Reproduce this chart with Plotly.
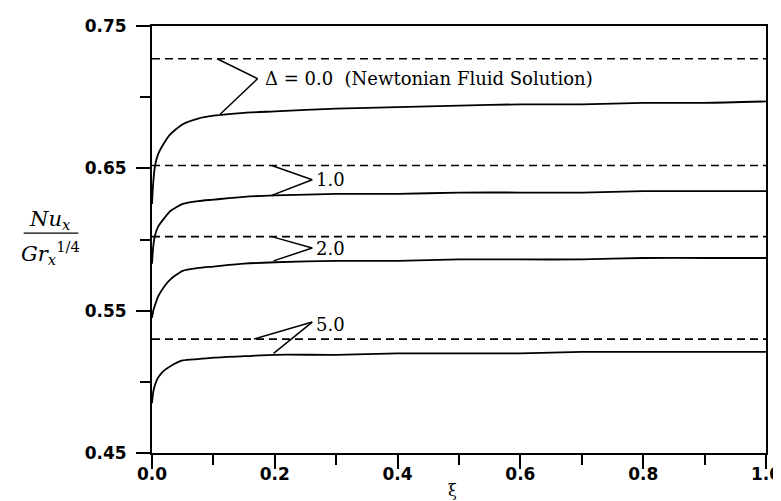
import plotly.graph_objects as go

# ---------------- data ----------------
xi = [0, 0.002, 0.005, 0.01, 0.02, 0.03, 0.05, 0.075, 0.1, 0.15, 0.2,
      0.3, 0.4, 0.5, 0.6, 0.7, 0.8, 0.9, 1.0]

nu_d0 = [0.625, 0.640, 0.652, 0.660, 0.668, 0.674, 0.681, 0.685, 0.687, 0.689, 0.690,
         0.692, 0.693, 0.694, 0.695, 0.695, 0.696, 0.696, 0.697]
nu_d1 = [0.583, 0.595, 0.603, 0.609, 0.615, 0.620, 0.625, 0.627, 0.628, 0.630, 0.631,
         0.632, 0.632, 0.633, 0.633, 0.633, 0.634, 0.634, 0.634]
nu_d2 = [0.545, 0.550, 0.554, 0.560, 0.567, 0.572, 0.578, 0.580, 0.581, 0.583, 0.584,
         0.585, 0.585, 0.586, 0.586, 0.586, 0.587, 0.587, 0.587]
nu_d5 = [0.485, 0.493, 0.498, 0.503, 0.508, 0.511, 0.515, 0.516, 0.517, 0.518, 0.519,
         0.519, 0.520, 0.520, 0.520, 0.521, 0.521, 0.521, 0.521]

xi_dash = [0.0, 1.0]
dash_d0 = [0.727, 0.727]
dash_d1 = [0.652, 0.652]
dash_d2 = [0.602, 0.602]
dash_d5 = [0.530, 0.530]

labels = ["Δ = 0.0  (Newtonian Fluid Solution)", "1.0", "2.0", "5.0"]
# leader chevrons: (xi_start, y_start), (xi_apex, y_apex), (xi_end, y_end)
leaders = [
    [(0.106, 0.727), (0.172, 0.713), (0.111, 0.688)],
    [(0.195, 0.652), (0.261, 0.642), (0.195, 0.631)],
    [(0.195, 0.602), (0.261, 0.594), (0.198, 0.585)],
    [(0.166, 0.530), (0.261, 0.542), (0.198, 0.520)],
]
label_pos = [(0.18, 0.713), (0.264, 0.642), (0.264, 0.594), (0.264, 0.540)]

# ---------------- figure ----------------
fig = go.Figure()
for ys in (nu_d0, nu_d1, nu_d2, nu_d5):
    fig.add_trace(go.Scatter(x=xi, y=ys, mode="lines",
                             line=dict(color="black", width=1.8, shape="spline", smoothing=0.6),
                             showlegend=False, hoverinfo="skip"))
for ys in (dash_d0, dash_d1, dash_d2, dash_d5):
    fig.add_trace(go.Scatter(x=xi_dash, y=ys, mode="lines",
                             line=dict(color="black", width=1.6, dash="8px,5px"),
                             showlegend=False, hoverinfo="skip"))

shapes = []
for pts in leaders:
    for (x0, y0), (x1, y1) in zip(pts[:-1], pts[1:]):
        shapes.append(dict(type="line", xref="x", yref="y", x0=x0, y0=y0, x1=x1, y1=y1,
                           line=dict(color="black", width=1.5)))

annotations = []
for txt, (lx, ly) in zip(labels, label_pos):
    annotations.append(dict(x=lx, y=ly, xref="x", yref="y", text=txt, showarrow=False,
                            xanchor="left", yanchor="middle",
                            font=dict(family="DejaVu Serif", size=18, color="black")))

# y-axis label as a fraction
annotations.append(dict(x=-0.166, y=0.545, xref="paper", yref="paper",
                        text="<i>Nu</i><sub><i>x</i></sub>", showarrow=False,
                        xanchor="center", yanchor="middle",
                        font=dict(family="DejaVu Serif", size=21, color="black")))
annotations.append(dict(x=-0.166, y=0.468, xref="paper", yref="paper",
                        text="<i>Gr</i><sub><i>x</i></sub><sup>1/4</sup>", showarrow=False,
                        xanchor="center", yanchor="middle",
                        font=dict(family="DejaVu Serif", size=21, color="black")))
shapes.append(dict(type="line", xref="paper", yref="paper", x0=-0.209, x1=-0.120,
                   y0=0.515, y1=0.515, line=dict(color="black", width=1.2)))
# x-axis title
annotations.append(dict(x=0.49, y=-0.088, xref="paper", yref="paper", text="ξ",
                        showarrow=False, xanchor="center", yanchor="middle",
                        font=dict(family="DejaVu Serif", size=16, color="black")))

fig.update_layout(
    width=781, height=501,
    margin=dict(l=144, r=8, t=18, b=56),
    paper_bgcolor="white", plot_bgcolor="white",
    shapes=shapes, annotations=annotations,
    showlegend=False,
)
fig.update_xaxes(range=[0, 1.0], showgrid=False, zeroline=False,
                 showline=True, mirror=True, linecolor="black", linewidth=1.8,
                 ticks="outside", ticklen=14, tickwidth=1.5, tickcolor="black",
                 tickvals=[0, 0.2, 0.4, 0.6, 0.8, 1.0], tickformat=".1f",
                 ticklabeloverflow="allow", ticklabelstandoff=-9,
                 minor=dict(tickvals=[0.1, 0.3, 0.5, 0.7, 0.9], ticks="outside",
                            ticklen=10, tickwidth=1.5, tickcolor="black"),
                 tickfont=dict(family="DejaVu Sans", size=17, color="black", weight="bold"))
fig.update_yaxes(range=[0.45, 0.75], showgrid=False, zeroline=False,
                 showline=True, mirror=True, linecolor="black", linewidth=1.8,
                 ticks="outside", ticklen=14, tickwidth=1.5, tickcolor="black",
                 tickvals=[0.45, 0.55, 0.65, 0.75], tickformat=".2f",
                 ticklabelstandoff=6,
                 minor=dict(tickvals=[0.50, 0.60, 0.70], ticks="outside",
                            ticklen=10, tickwidth=1.5, tickcolor="black"),
                 tickfont=dict(family="DejaVu Sans", size=17, color="black", weight="bold"))

fig.write_html("out.html")
